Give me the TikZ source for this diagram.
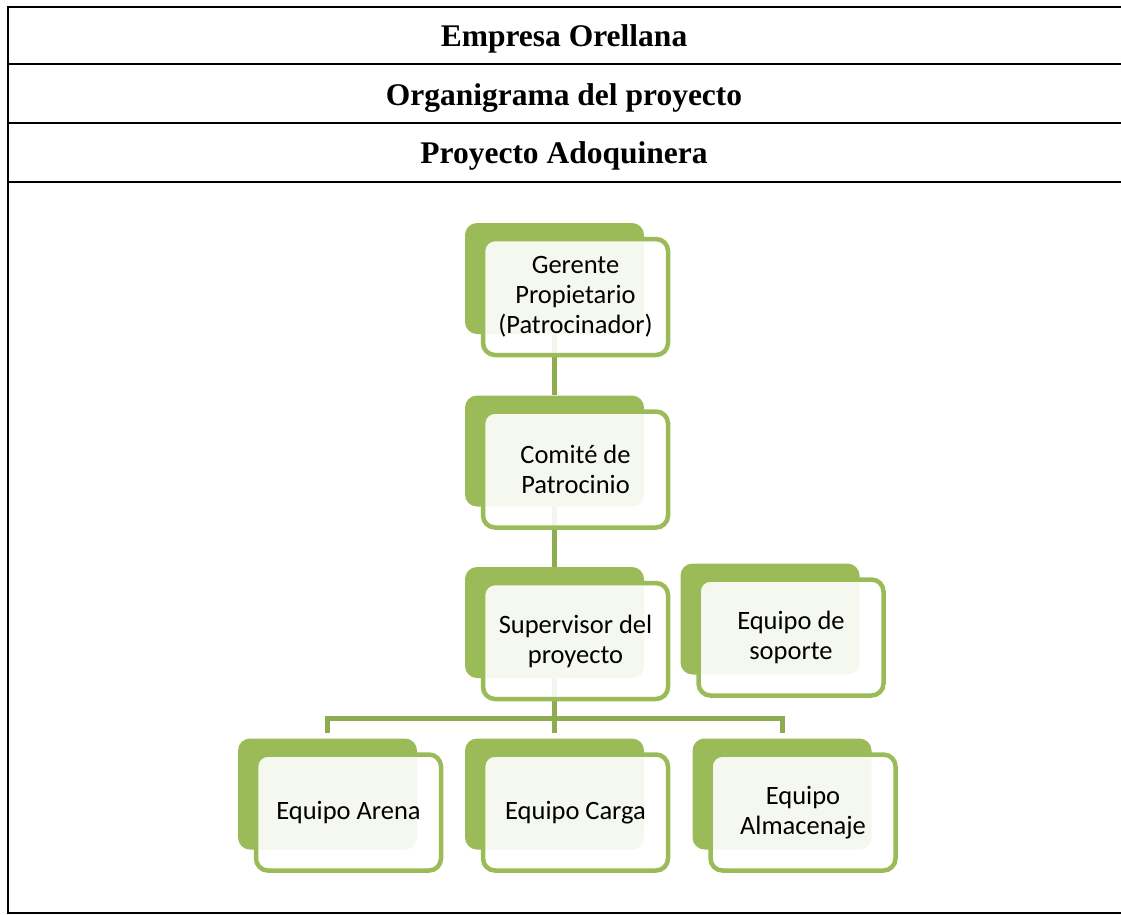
\documentclass[tikz,border=0pt]{standalone}
\usepackage{fontspec}
\setmainfont{Liberation Serif}
\newfontfamily\calib{Carlito}
\usetikzlibrary{positioning}
\definecolor{olive}{RGB}{155,187,89}
\definecolor{oliveline}{RGB}{141,172,79}
\tikzset{
  back/.style={fill=olive,rounded corners=12pt,minimum width=179pt,
    minimum height=111pt,inner sep=0pt},
  card/.style={draw=olive,line width=4.5pt,fill=white,fill opacity=0.9,
    text opacity=1,rounded corners=12pt,minimum width=185pt,minimum height=116pt,
    inner sep=0pt,align=center,font=\calib\fontsize{26.5}{30}\selectfont},
  link/.style={draw=oliveline,line width=5pt},
  title/.style={font=\fontsize{31.5}{36}\selectfont\bfseries,anchor=base},
  rule/.style={line width=2pt},
}
\begin{document}
\begin{tikzpicture}[x=1pt,y=-1pt]
  \useasboundingbox (0,0) rectangle (1121,914);
  % table
  \draw[rule] (1121,7) -- (7.5,7) -- (7.5,912.5) -- (1121,912.5);
  \foreach \y in {64,123,182} \draw[rule] (7.5,\y) -- (1121,\y);
  \node[title] (emp) at (564,46) {Empresa Orellana};
  \node[title] (org) at (564,105) {Organigrama del proyecto};
  \node[title] (pro) at (564,163) {Proyecto Adoquinera};
  % back boxes
  \node[back] (gerb) at (554.5,278.5) {};
  \node[back] (comb) at (554.5,451) {};
  \node[back] (supb) at (554.5,622.5) {};
  \node[back] (sopb) at (770,619) {};
  \node[back] (areb) at (327.5,794) {};
  \node[back] (carb) at (554.5,794) {};
  \node[back] (almb) at (782,794) {};
  % connectors
  \coordinate (fork) at (554.5,718);
  \draw[link] (gerb.south) -- (comb.north);
  \draw[link] (comb.south) -- (supb.north);
  \draw[link] (supb.south) -- (fork);
  \draw[link] ([yshift=5pt]areb.north) |- (fork) -| ([yshift=5pt]almb.north);
  \draw[link] (fork) -- ([yshift=5pt]carb.north);
  % front boxes
  \node[card] (ger) at ([shift={(21,18.5)}]gerb.center) {Gerente\\Propietario\\(Patrocinador)};
  \node[card] (com) at ([shift={(21,18.5)}]comb.center) {Comité de\\Patrocinio};
  \node[card] (sup) at ([shift={(21,18.5)}]supb.center) {Supervisor del\\proyecto};
  \node[card] (sop) at ([shift={(21,18.5)}]sopb.center) {Equipo de\\soporte};
  \node[card] (are) at ([shift={(21,18.5)}]areb.center) {Equipo Arena};
  \node[card] (car) at ([shift={(21,18.5)}]carb.center) {Equipo Carga};
  \node[card] (alm) at ([shift={(21,18.5)}]almb.center) {Equipo\\Almacenaje};
\end{tikzpicture}
\end{document}
